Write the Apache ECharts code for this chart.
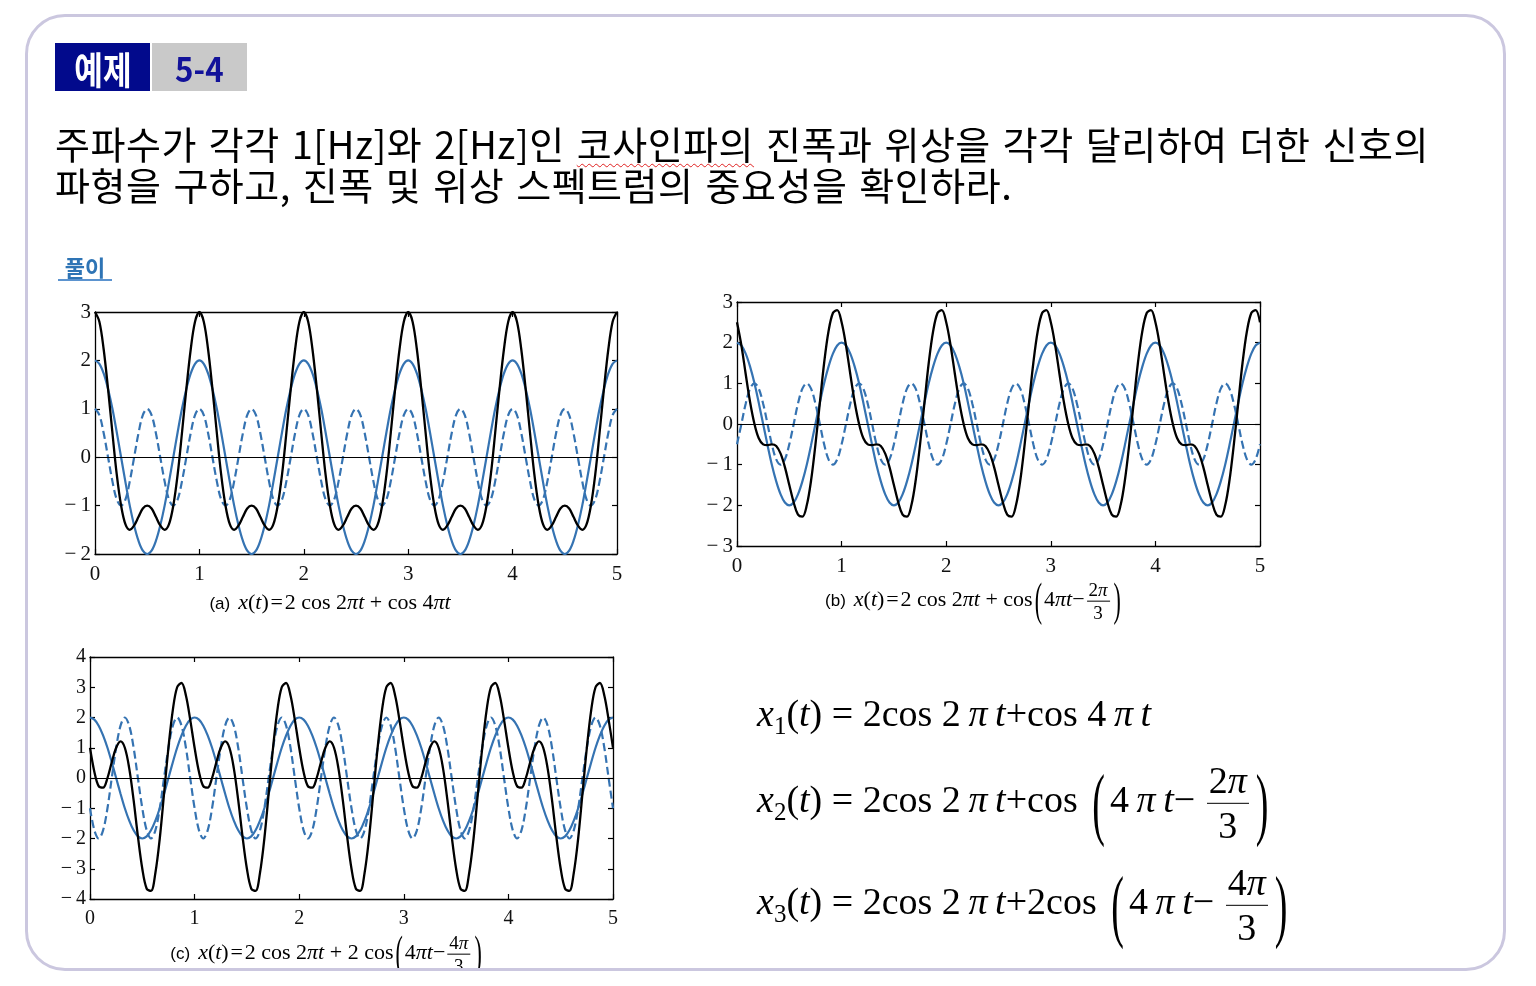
<!DOCTYPE html>
<html><head><meta charset="utf-8">
<script src="https://cdn.jsdelivr.net/npm/echarts@6/dist/echarts.min.js"></script>
<style>
html,body{margin:0;padding:0;background:#fff;width:1536px;height:986px;overflow:hidden}
#chart{position:absolute;left:0;top:0;width:1536px;height:986px;z-index:1}
.ov{position:absolute;z-index:2;white-space:nowrap;color:#000}
.kr{font-family:"Noto Sans CJK KR","Noto Sans",sans-serif}
.m{font-family:"Liberation Serif","DejaVu Serif",serif}
.cap{transform:translate(-50%,-50%);line-height:1}
.lab{font-family:"Liberation Sans","DejaVu Sans",sans-serif;font-size:17px;margin-right:8px}
.frac{display:inline-flex;flex-direction:column;align-items:center;vertical-align:middle;margin:0 2px}
.frac>span{line-height:1.15;padding:0 2px}
.frac>span:first-child{border-bottom:1.3px solid #000}
.bp{display:inline-block;vertical-align:middle;transform:scaleY(2.1);font-weight:100;margin:0 2px}
.eq{font-size:38px;line-height:1}
.eq .frac>span:first-child{border-bottom:1.6px solid #000}
.eq .bp{margin:0 5px}
</style></head>
<body>
<div id="chart"></div>

<!-- header -->
<div class="ov kr" style="left:55px;top:43px;width:95px;height:48px;background:#020a8c;color:#fff;font-weight:700;font-size:38px;display:flex;align-items:center;justify-content:center"><span style="display:inline-block;transform:scaleX(0.82)">예제</span></div>
<div class="ov kr" style="left:152px;top:43px;width:95px;height:48px;background:#c9c9c9;color:#12129a;font-weight:700;font-size:34px;display:flex;align-items:center;justify-content:center"><span style="display:inline-block;transform:scaleX(0.92)">5-4</span></div>

<div class="ov kr" style="left:55px;top:122px;font-size:38px;line-height:41px;letter-spacing:0.5px;word-spacing:3px">주파수가 각각 1[Hz]와 2[Hz]인 <span style="text-decoration:underline wavy #e02020;text-decoration-thickness:1px;text-underline-offset:4px">코사인파의</span> 진폭과 위상을 각각 달리하여 더한 신호의<br>파형을 구하고, 진폭 및 위상 스펙트럼의 중요성을 확인하라.</div>

<div class="ov kr" style="left:58px;top:253px;width:54px;text-align:center;font-size:22px;line-height:26px;font-weight:700;color:#2e74b5;border-bottom:2px solid #5b93cf">풀이</div>

<!-- captions -->
<div class="ov cap m" style="left:330px;top:602px;font-size:22px"><span class="lab">(a)</span><i>x</i>(<i>t</i>)&#8202;=&#8202;2 cos 2<i>πt</i> + cos 4<i>πt</i></div>
<div class="ov cap m" style="left:974px;top:601px;font-size:22px"><span class="lab">(b)</span><i>x</i>(<i>t</i>)&#8202;=&#8202;2 cos 2<i>πt</i> + cos<span class="bp">(</span>4<i>πt</i>−<span class="frac" style="font-size:19px"><span>2<i>π</i></span><span>3</span></span><span class="bp">)</span></div>
<div class="ov cap m" style="left:327px;top:954px;font-size:22px"><span class="lab">(c)</span><i>x</i>(<i>t</i>)&#8202;=&#8202;2 cos 2<i>πt</i> + 2 cos<span class="bp">(</span>4<i>πt</i>−<span class="frac" style="font-size:19px"><span>4<i>π</i></span><span>3</span></span><span class="bp">)</span></div>

<!-- equations -->
<div class="ov m eq" style="left:757px;top:716px;transform:translateY(-50%)"><i>x</i><sub style="font-size:25px">1</sub>(<i>t</i>) = 2cos 2&#8201;<i>π</i>&#8201;<i>t</i>+cos 4&#8201;<i>π</i>&#8201;<i>t</i></div>
<div class="ov m eq" style="left:757px;top:803px;transform:translateY(-50%)"><i>x</i><sub style="font-size:25px">2</sub>(<i>t</i>) = 2cos 2&#8201;<i>π</i>&#8201;<i>t</i>+cos <span class="bp">(</span>4&#8201;<i>π</i>&#8201;<i>t</i>− <span class="frac"><span>2<i>π</i></span><span>3</span></span><span class="bp">)</span></div>
<div class="ov m eq" style="left:757px;top:905px;transform:translateY(-50%)"><i>x</i><sub style="font-size:25px">3</sub>(<i>t</i>) = 2cos 2&#8201;<i>π</i>&#8201;<i>t</i>+2cos <span class="bp">(</span>4&#8201;<i>π</i>&#8201;<i>t</i>− <span class="frac"><span>4<i>π</i></span><span>3</span></span><span class="bp">)</span></div>

<div style="position:absolute;left:60px;top:968px;width:1420px;height:18px;background:#fff;z-index:3"></div>
<div style="position:absolute;left:25px;top:14px;width:1481px;height:957px;box-sizing:border-box;border:3.5px solid #cbc7df;border-radius:40px;z-index:4;pointer-events:none"></div>

<script>
// time samples (s)
const T = [
0,0.042,0.083,0.125,0.167,0.208,0.25,0.292,0.333,0.375,0.417,0.458,0.5,0.542,0.583,0.625,0.667,0.708,0.75,0.792,0.833,0.875,0.917,0.958,
1,1.042,1.083,1.125,1.167,1.208,1.25,1.292,1.333,1.375,1.417,1.458,1.5,1.542,1.583,1.625,1.667,1.708,1.75,1.792,1.833,1.875,1.917,1.958,
2,2.042,2.083,2.125,2.167,2.208,2.25,2.292,2.333,2.375,2.417,2.458,2.5,2.542,2.583,2.625,2.667,2.708,2.75,2.792,2.833,2.875,2.917,2.958,
3,3.042,3.083,3.125,3.167,3.208,3.25,3.292,3.333,3.375,3.417,3.458,3.5,3.542,3.583,3.625,3.667,3.708,3.75,3.792,3.833,3.875,3.917,3.958,
4,4.042,4.083,4.125,4.167,4.208,4.25,4.292,4.333,4.375,4.417,4.458,4.5,4.542,4.583,4.625,4.667,4.708,4.75,4.792,4.833,4.875,4.917,4.958,
5];

// 1 Hz component, amplitude 2 (solid blue, all panels)
const wave1Hz = [
2,1.93,1.73,1.41,1,0.52,0,-0.52,-1,-1.41,-1.73,-1.93,-2,-1.93,-1.73,-1.41,-1,-0.52,0,0.52,1,1.41,1.73,1.93,
2,1.93,1.73,1.41,1,0.52,0,-0.52,-1,-1.41,-1.73,-1.93,-2,-1.93,-1.73,-1.41,-1,-0.52,0,0.52,1,1.41,1.73,1.93,
2,1.93,1.73,1.41,1,0.52,0,-0.52,-1,-1.41,-1.73,-1.93,-2,-1.93,-1.73,-1.41,-1,-0.52,0,0.52,1,1.41,1.73,1.93,
2,1.93,1.73,1.41,1,0.52,0,-0.52,-1,-1.41,-1.73,-1.93,-2,-1.93,-1.73,-1.41,-1,-0.52,0,0.52,1,1.41,1.73,1.93,
2,1.93,1.73,1.41,1,0.52,0,-0.52,-1,-1.41,-1.73,-1.93,-2,-1.93,-1.73,-1.41,-1,-0.52,0,0.52,1,1.41,1.73,1.93,
2];

// (a) 2 Hz component (dashed) and sum (black)
const a2Hz = [
1,0.87,0.5,0,-0.5,-0.87,-1,-0.87,-0.5,0,0.5,0.87,1,0.87,0.5,0,-0.5,-0.87,-1,-0.87,-0.5,0,0.5,0.87,
1,0.87,0.5,0,-0.5,-0.87,-1,-0.87,-0.5,0,0.5,0.87,1,0.87,0.5,0,-0.5,-0.87,-1,-0.87,-0.5,0,0.5,0.87,
1,0.87,0.5,0,-0.5,-0.87,-1,-0.87,-0.5,0,0.5,0.87,1,0.87,0.5,0,-0.5,-0.87,-1,-0.87,-0.5,0,0.5,0.87,
1,0.87,0.5,0,-0.5,-0.87,-1,-0.87,-0.5,0,0.5,0.87,1,0.87,0.5,0,-0.5,-0.87,-1,-0.87,-0.5,0,0.5,0.87,
1,0.87,0.5,0,-0.5,-0.87,-1,-0.87,-0.5,0,0.5,0.87,1,0.87,0.5,0,-0.5,-0.87,-1,-0.87,-0.5,0,0.5,0.87,
1];
const aSum = [
3,2.8,2.23,1.41,0.5,-0.35,-1,-1.39,-1.5,-1.41,-1.23,-1.06,-1,-1.06,-1.23,-1.41,-1.5,-1.39,-1,-0.35,0.5,1.41,2.23,2.8,
3,2.8,2.23,1.41,0.5,-0.35,-1,-1.39,-1.5,-1.41,-1.23,-1.06,-1,-1.06,-1.23,-1.41,-1.5,-1.39,-1,-0.35,0.5,1.41,2.23,2.8,
3,2.8,2.23,1.41,0.5,-0.35,-1,-1.39,-1.5,-1.41,-1.23,-1.06,-1,-1.06,-1.23,-1.41,-1.5,-1.39,-1,-0.35,0.5,1.41,2.23,2.8,
3,2.8,2.23,1.41,0.5,-0.35,-1,-1.39,-1.5,-1.41,-1.23,-1.06,-1,-1.06,-1.23,-1.41,-1.5,-1.39,-1,-0.35,0.5,1.41,2.23,2.8,
3,2.8,2.23,1.41,0.5,-0.35,-1,-1.39,-1.5,-1.41,-1.23,-1.06,-1,-1.06,-1.23,-1.41,-1.5,-1.39,-1,-0.35,0.5,1.41,2.23,2.8,
3];

// (b)
const b2Hz = [
-0.5,0,0.5,0.87,1,0.87,0.5,0,-0.5,-0.87,-1,-0.87,-0.5,0,0.5,0.87,1,0.87,0.5,0,-0.5,-0.87,-1,-0.87,
-0.5,0,0.5,0.87,1,0.87,0.5,0,-0.5,-0.87,-1,-0.87,-0.5,0,0.5,0.87,1,0.87,0.5,0,-0.5,-0.87,-1,-0.87,
-0.5,0,0.5,0.87,1,0.87,0.5,0,-0.5,-0.87,-1,-0.87,-0.5,0,0.5,0.87,1,0.87,0.5,0,-0.5,-0.87,-1,-0.87,
-0.5,0,0.5,0.87,1,0.87,0.5,0,-0.5,-0.87,-1,-0.87,-0.5,0,0.5,0.87,1,0.87,0.5,0,-0.5,-0.87,-1,-0.87,
-0.5,0,0.5,0.87,1,0.87,0.5,0,-0.5,-0.87,-1,-0.87,-0.5,0,0.5,0.87,1,0.87,0.5,0,-0.5,-0.87,-1,-0.87,
-0.5];
const bSum = [
2.5,1.93,1.23,0.54,0,-0.35,-0.5,-0.52,-0.5,-0.54,-0.73,-1.06,-1.5,-1.93,-2.23,-2.28,-2,-1.39,-0.5,0.52,1.5,2.28,2.73,2.8,
2.5,1.93,1.23,0.54,0,-0.35,-0.5,-0.52,-0.5,-0.54,-0.73,-1.06,-1.5,-1.93,-2.23,-2.28,-2,-1.39,-0.5,0.52,1.5,2.28,2.73,2.8,
2.5,1.93,1.23,0.54,0,-0.35,-0.5,-0.52,-0.5,-0.54,-0.73,-1.06,-1.5,-1.93,-2.23,-2.28,-2,-1.39,-0.5,0.52,1.5,2.28,2.73,2.8,
2.5,1.93,1.23,0.54,0,-0.35,-0.5,-0.52,-0.5,-0.54,-0.73,-1.06,-1.5,-1.93,-2.23,-2.28,-2,-1.39,-0.5,0.52,1.5,2.28,2.73,2.8,
2.5,1.93,1.23,0.54,0,-0.35,-0.5,-0.52,-0.5,-0.54,-0.73,-1.06,-1.5,-1.93,-2.23,-2.28,-2,-1.39,-0.5,0.52,1.5,2.28,2.73,2.8,
2.5];

// (c)
const c2Hz = [
-1,-1.73,-2,-1.73,-1,0,1,1.73,2,1.73,1,0,-1,-1.73,-2,-1.73,-1,0,1,1.73,2,1.73,1,0,
-1,-1.73,-2,-1.73,-1,0,1,1.73,2,1.73,1,0,-1,-1.73,-2,-1.73,-1,0,1,1.73,2,1.73,1,0,
-1,-1.73,-2,-1.73,-1,0,1,1.73,2,1.73,1,0,-1,-1.73,-2,-1.73,-1,0,1,1.73,2,1.73,1,0,
-1,-1.73,-2,-1.73,-1,0,1,1.73,2,1.73,1,0,-1,-1.73,-2,-1.73,-1,0,1,1.73,2,1.73,1,0,
-1,-1.73,-2,-1.73,-1,0,1,1.73,2,1.73,1,0,-1,-1.73,-2,-1.73,-1,0,1,1.73,2,1.73,1,0,
-1];
const cSum = [
1,0.2,-0.27,-0.32,0,0.52,1,1.21,1,0.32,-0.73,-1.93,-3,-3.66,-3.73,-3.14,-2,-0.52,1,2.25,3,3.14,2.73,1.93,
1,0.2,-0.27,-0.32,0,0.52,1,1.21,1,0.32,-0.73,-1.93,-3,-3.66,-3.73,-3.14,-2,-0.52,1,2.25,3,3.14,2.73,1.93,
1,0.2,-0.27,-0.32,0,0.52,1,1.21,1,0.32,-0.73,-1.93,-3,-3.66,-3.73,-3.14,-2,-0.52,1,2.25,3,3.14,2.73,1.93,
1,0.2,-0.27,-0.32,0,0.52,1,1.21,1,0.32,-0.73,-1.93,-3,-3.66,-3.73,-3.14,-2,-0.52,1,2.25,3,3.14,2.73,1.93,
1,0.2,-0.27,-0.32,0,0.52,1,1.21,1,0.32,-0.73,-1.93,-3,-3.66,-3.73,-3.14,-2,-0.52,1,2.25,3,3.14,2.73,1.93,
1];

const xTicks = [0, 5, 1];           // min, max, interval
const yRanges = [[-2, 3], [-3, 3], [-4, 4]];

const SERIF = '"Liberation Serif","DejaVu Serif",serif';
const BLUE = '#3573b2';
const panels = [
  {left: 95, top: 312, width: 522, height: 242, fs: 21},
  {left: 737, top: 302, width: 523, height: 244, fs: 21},
  {left: 90, top: 657, width: 523, height: 242, fs: 20}
];

const grid = [], xAxis = [], yAxis = [], series = [];
const axLine = {show: true, onZero: false, lineStyle: {color: '#000', width: 1.3}};
const tick = {show: true, inside: true, length: 5, lineStyle: {color: '#000', width: 1.2}};
function fmtY(v) { return v < 0 ? '\u2212\u2009' + (-v) : String(v); }

panels.forEach((p, g) => {
  grid.push({left: p.left, top: p.top, width: p.width, height: p.height, containLabel: false, outerBoundsMode: 'none'});
  const xa = {gridIndex: g, type: 'value', min: xTicks[0], max: xTicks[1], interval: xTicks[2],
    axisLine: axLine, axisTick: tick, splitLine: {show: false}};
  xAxis.push(Object.assign({}, xa, {position: 'bottom',
    axisLabel: {show: true, color: '#111', fontFamily: SERIF, fontSize: p.fs, margin: 10}}));
  xAxis.push(Object.assign({}, xa, {position: 'top', axisLabel: {show: false}}));
  const ya = {gridIndex: g, type: 'value', min: yRanges[g][0], max: yRanges[g][1], interval: 1,
    axisLine: axLine, axisTick: tick, splitLine: {show: false}};
  yAxis.push(Object.assign({}, ya, {position: 'left',
    axisLabel: {show: true, color: '#111', fontFamily: SERIF, fontSize: p.fs, margin: 4, formatter: fmtY}}));
  yAxis.push(Object.assign({}, ya, {position: 'right', axisLabel: {show: false}}));
});

function pairs(arr) { return T.map((t, i) => [t, arr[i]]); }
const zeroLine = {silent: true, symbol: 'none', label: {show: false}, animation: false,
  lineStyle: {color: '#000', width: 1.2, type: 'solid'}, data: [{yAxis: 0}]};

[[a2Hz, aSum], [b2Hz, bSum], [c2Hz, cSum]].forEach(([h2, sum], g) => {
  const base = {type: 'line', xAxisIndex: 2 * g, yAxisIndex: 2 * g, showSymbol: false, symbol: 'none',
    smooth: 0.35, animation: false, silent: true};
  series.push(Object.assign({}, base, {name: 'h2_' + g, data: pairs(h2),
    lineStyle: {color: BLUE, width: 2.2, type: [8, 4]}, markLine: zeroLine, z: 2}));
  series.push(Object.assign({}, base, {name: 'h1_' + g, data: pairs(wave1Hz),
    lineStyle: {color: BLUE, width: 2.2}, z: 3}));
  series.push(Object.assign({}, base, {name: 'sum_' + g, data: pairs(sum),
    lineStyle: {color: '#000', width: 2.3}, z: 4}));
});

const chart = echarts.init(document.getElementById('chart'), null, {renderer: 'canvas'});
chart.setOption({backgroundColor: 'transparent', animation: false, grid, xAxis, yAxis, series});
</script>
</body></html>
